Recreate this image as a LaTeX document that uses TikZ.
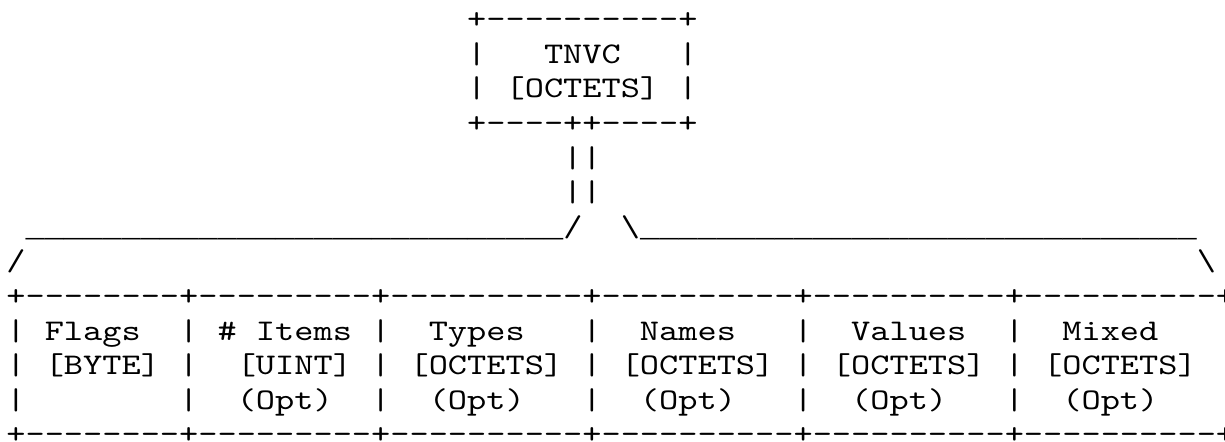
\documentclass[tikz,border=0pt]{standalone}
\usepackage{fontspec}
\setmonofont{lmmono10-regular.otf}[FakeStretch=1.219]
\newfontfamily\ulfont{Liberation Mono}
\newcommand{\ulrun}[1]{{\ulfont\fontsize{16}{16}\selectfont#1}}
\begin{document}
\begin{tikzpicture}[x=1pt,y=1pt,
  row/.style={anchor=base west, inner sep=0pt, outer sep=0pt,
    font=\ttfamily\fontsize{15}{15}\selectfont, text=black}]
\frenchspacing
\useasboundingbox (0,0) rectangle (612.5,-221);
% column c -> x = 3.2 + 9.6 c ; row r -> y = -(14.35 + 17.3 r)
\node[row] (r0)  at (233.6,-14.35)  {+----------+};
\node[row] (r1)  at (233.6,-31.65)  {|~~~TNVC~~~|};
\node[row] (r2)  at (233.6,-48.95)  {|~[OCTETS]~|};
\node[row] (r3)  at (233.6,-66.25)  {+----++----+};
\node[row] (r4)  at (281.6,-83.55)  {||};
\node[row] (r5)  at (281.6,-100.85) {||};
\node[row] (r6)  at (12.8,-118.15)  {\ulrun{\_\_\_\_\_\_\_\_\_\_\_\_\_\_\_\_\_\_\_\_\_\_\_\_\_\_\_\_}/~~\textbackslash\ulrun{\_\_\_\_\_\_\_\_\_\_\_\_\_\_\_\_\_\_\_\_\_\_\_\_\_\_\_\_\_}};
\node[row] (r7a) at (3.2,-135.45)   {/};
\node[row] (r7b) at (598.4,-135.45) {\textbackslash};
\node[row] (r8)  at (3.2,-152.75)   {+--------+---------+----------+----------+----------+----------+};
\node[row] (r9)  at (3.2,-170.05)   {|~Flags~~|~\#~Items~|~~Types~~~|~~Names~~~|~~Values~~|~~Mixed~~~};
\node[row] (r10) at (3.2,-187.35)   {|~[BYTE]~|~~[UINT]~|~[OCTETS]~|~[OCTETS]~|~[OCTETS]~|~[OCTETS]~};
\node[row] (r11) at (3.2,-204.65)   {|~~~~~~~~|~~(Opt)~~|~~(Opt)~~~|~~(Opt)~~~|~~(Opt)~~~|~~(Opt)~~~};
\node[row] (r12) at (3.2,-221.95)   {+--------+---------+----------+----------+----------+----------+};
\end{tikzpicture}
\end{document}
